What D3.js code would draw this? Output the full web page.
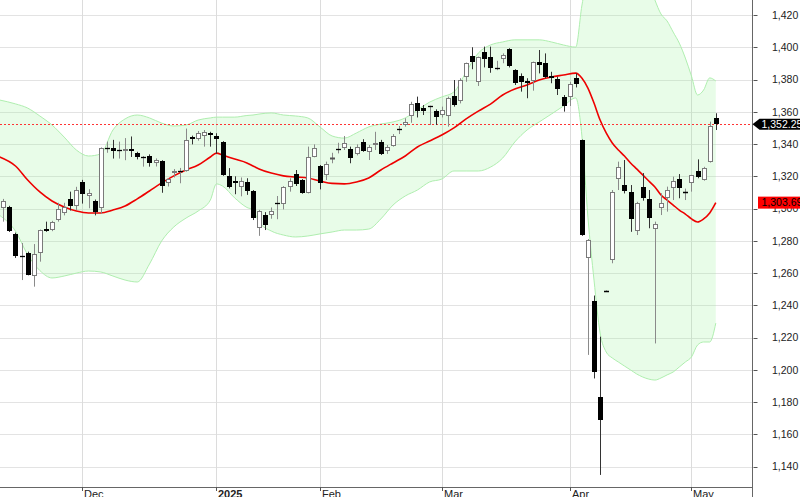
<!DOCTYPE html>
<html><head><meta charset="utf-8">
<script src="https://cdn.jsdelivr.net/npm/d3@7"></script>
<style>html,body{margin:0;padding:0;background:#fff;overflow:hidden}</style>
</head><body><svg id="c" width="800" height="497"></svg>
<script>
// ---- data ----
const opens = [1300.3,1301.1,1284.1,1270.4,1272.3,1258.4,1272.3,1287.5,1286.7,1292.9,
1297.5,1306.1,1301.4,1316.2,1308.0,1304.8,1300.1,1337.7,1337.7,1336.3,
1335.5,1336.8,1334.2,1331.7,1332.8,1328.1,1329.7,1316.1,1321.8,1323.6,
1323.5,1344.2,1343.0,1345.2,1347.1,1345.2,1341.5,1320.2,1317.0,1313.6,
1316.6,1310.9,1287.8,1296.1,1296.2,1303.2,1302.9,1313.1,1321.4,1317.7,
1309.8,1332.2,1326.4,1320.7,1330.6,1336.7,1337.4,1336.7,1333.7,1341.5,
1334.8,1339.4,1341.5,1335.9,1338.7,1349.1,1351.8,1357.4,1365.6,1362.1,
1363.6,1360.6,1358.0,1357.4,1369.7,1366.9,1381.8,1394.6,1378.6,1397.2,
1394.2,1386.9,1392.7,1398.8,1385.9,1382.2,1379.2,1379.2,1391.1,1390.5,
1382.2,1380.1,1369.3,1369.3,1381.1,1342.6,1269.2,1242.5,1183.5,1249.1,
1268.1,1318.1,1314.6,1310.1,1286.3,1313.6,1305.8,1287.1,1300.2,1306.4,
1312.5,1318.2,1310.5,1315.7,1323.5,1317.7,1329.1,1356.0];
const highs = [1306.0,1301.7,1285.1,1278.7,1273.3,1278.0,1287.0,1291.9,1292.4,1303.6,
1303.6,1310.5,1313.5,1317.8,1312.0,1305.6,1337.9,1341.5,1342.6,1341.5,
1343.7,1344.7,1335.2,1332.6,1333.6,1331.1,1330.0,1318.8,1324.5,1325.2,
1349.6,1345.2,1348.1,1348.7,1347.6,1346.7,1341.8,1325.1,1320.0,1319.3,
1318.8,1311.5,1299.2,1297.8,1300.7,1307.8,1313.9,1318.8,1323.9,1318.3,
1338.4,1339.8,1327.0,1329.1,1334.6,1340.8,1345.0,1338.4,1339.8,1343.0,
1339.4,1347.6,1342.6,1339.4,1346.2,1351.2,1356.0,1366.2,1369.4,1364.2,
1363.8,1361.5,1363.2,1369.4,1379.7,1380.8,1390.5,1400.0,1394.2,1400.4,
1400.4,1391.6,1396.2,1399.4,1386.4,1383.8,1380.8,1391.1,1398.3,1396.2,
1384.8,1381.8,1370.4,1378.6,1383.8,1342.8,1281.1,1246.1,1220.6,1249.3,
1311.5,1329.1,1330.1,1314.6,1304.2,1322.0,1311.5,1291.9,1309.5,1313.6,
1319.8,1321.4,1312.4,1320.9,1330.5,1325.9,1353.9,1359.1];
const lows = [1291.9,1285.5,1269.4,1255.7,1258.6,1251.6,1267.1,1285.6,1286.0,1291.9,
1295.8,1298.8,1299.2,1303.1,1300.2,1295.8,1296.8,1334.6,1331.0,1331.0,
1330.0,1332.0,1330.5,1326.0,1326.0,1326.1,1309.8,1313.7,1319.3,1315.7,
1322.9,1339.8,1342.1,1338.4,1338.4,1334.0,1320.3,1312.5,1308.9,1307.6,
1308.5,1292.9,1283.1,1286.7,1293.7,1293.4,1299.5,1310.5,1314.0,1309.2,
1309.4,1331.8,1311.9,1317.7,1328.1,1334.2,1336.3,1328.1,1333.0,1335.2,
1330.1,1336.3,1333.2,1333.9,1338.4,1346.2,1350.8,1353.2,1356.5,1358.0,
1351.8,1351.8,1356.5,1350.8,1363.2,1365.2,1378.6,1386.4,1376.0,1387.5,
1384.2,1385.8,1390.1,1387.5,1376.6,1372.5,1368.4,1373.1,1383.8,1380.8,
1377.7,1370.4,1360.1,1363.6,1375.1,1283.1,1209.3,1194.7,1134.9,1248.9,
1266.1,1311.5,1309.4,1285.6,1283.6,1304.9,1287.8,1216.4,1296.0,1298.1,
1305.3,1306.4,1305.3,1310.5,1318.8,1317.3,1328.5,1348.7];
const closes = [1305.0,1286.3,1270.9,1270.6,1259.1,1271.6,1286.7,1286.3,1291.9,1299.5,
1301.1,1301.7,1311.5,1309.0,1309.5,1297.7,1337.7,1337.7,1336.0,1336.3,
1336.8,1335.5,1331.7,1331.7,1328.1,1330.1,1314.0,1318.2,1323.3,1323.6,
1342.6,1343.1,1346.7,1347.6,1345.5,1343.1,1320.9,1313.1,1315.7,1317.0,
1311.0,1293.9,1298.6,1289.6,1298.3,1303.2,1313.1,1317.0,1315.3,1309.8,
1332.2,1337.8,1315.7,1327.5,1331.1,1336.7,1340.8,1331.1,1338.4,1335.9,
1338.4,1340.4,1333.9,1338.0,1345.0,1349.1,1353.9,1364.9,1360.6,1360.6,
1363.6,1356.5,1361.1,1368.4,1364.2,1379.7,1390.1,1391.1,1393.8,1392.5,
1387.3,1386.9,1395.2,1388.4,1377.7,1378.2,1378.1,1390.7,1389.0,1381.8,
1380.8,1373.9,1363.6,1377.2,1377.2,1283.6,1280.6,1198.9,1169.0,1249.1,
1310.1,1326.0,1311.0,1293.4,1303.7,1306.4,1294.1,1290.4,1303.7,1311.5,
1317.2,1312.5,1310.5,1320.9,1319.4,1325.0,1351.2,1352.25];

// Bollinger band readings, at these candle positions
const bandIdx = [-0.6,2,4,6,8,10,12,14,16,18,20,22,24,26,28,30,32,34,35,36,38,40,41,42,
44,46,48,50,52,54,56,58,60,62,64,66,68,70,72,74,76,78,80,82,84,86,88,90,92,94,
95,96,97,98,99,100,101,102,103,104,105,106,107,108,109,110,111,112,113,114,115,116,117];
const bandUpper = [1367.3,1364.9,1362.3,1357.4,1351.8,1344.3,1336.3,1332.6,1333.9,1348.7,1355.6,1358.0,1356.2,1353.0,1351.2,1351.8,1354.9,1356.2,
1356.7,1356.7,1356.7,1357.7,1358.0,1358.6,
1359.3,1358.0,1357.4,1356.2,1350.6,1345.0,1343.7,1346.9,1350.6,1352.4,1353.7,1356.2,1361.1,1366.0,1369.2,1372.3,1384.7,1396.4,1401.4,1403.3,1404.6,1404.6,1404.6,1403.3,1401.4,1400.1,
1425.6,1445,1455,1458,1460,1460,1460,1460,1458,1456,1452,1440,1429.3,1420.6,1416.3,1409.4,1402.6,1393.3,1382.2,1370.4,1373.5,1381.0,1379.1];
const bandMid = [1332.0,1326.4,1317.7,1310.3,1304.7,1301.0,1298.5,1297.3,1297.3,1299.1,1301.6,1306.0,1310.9,1315.9,1320.3,1323.9,1327.0,1332.0,
1334.4,1333.2,1330.7,1328.3,1326.4,1324.6,
1322.0,1320.3,1319.6,1319.0,1317.1,1315.6,1315.3,1316.5,1319.0,1323.9,1328.3,1332.6,1338.2,1341.9,1345.6,1350.0,1355.6,1360.4,1364.8,1370.4,1374.1,1376.6,1379.7,1381.6,1382.8,1384.0,
1381.0,1374.7,1365.4,1354.9,1346.9,1340.7,1336.3,1332.6,1328.3,1324.6,1320.9,1317.1,1313.4,1308.4,1305.3,1302.2,1299.1,1296.6,1293.6,1291.7,1293.6,1297.3,1303.69];
const bandLower = [1295.8,1286.0,1271.4,1261.6,1257.0,1258.2,1260.0,1261.3,1260.7,1258.2,1255.7,1254.5,1265.6,1279.9,1288.6,1294.1,1298.5,1305.3,
1315.3,1314.0,1306.6,1300.7,1299.1,1291.7,
1286.1,1283.6,1282.4,1283.0,1284.3,1285.5,1286.7,1286.7,1287.3,1293.6,1302.2,1307.8,1311.5,1316.5,1318.3,1323.3,1323.3,1323.3,1325.7,1331.3,1341.3,1348.7,1353.7,1358.6,1363.6,1368.6,
1345.6,1294.7,1255.7,1222.9,1211.1,1207.4,1204.9,1202.4,1200.0,1197.5,1195.6,1194.3,1193.7,1195.0,1196.9,1198.7,1201.8,1204.9,1208.0,1215.4,1217.3,1217.3,1229.0];

const yTickValues = [1140,1160,1180,1200,1220,1240,1260,1280,1300,1320,1340,1360,1380,1400,1420];
const monthTickIndex = [13,35,52,72,93,113];
const monthTickLabels = ["Dec","2025","Feb","Mar","Apr","May"];
const lastClose = 1352.25;
const lastMid = 1303.69;

// ---- layout ----
const plotR = 752.5, plotB = 487;
const svg = d3.select("#c");
const x = d3.scaleLinear().domain([0, 117]).range([3.3, 715.8]);
const y = d3.scaleLinear().domain([1140, 1420]).range([466.7, 15]);
const FONT = "'Liberation Sans', Arial, sans-serif";

svg.append("defs").append("clipPath").attr("id","plot")
  .append("rect").attr("x",0).attr("y",0).attr("width",plotR).attr("height",plotB);

// grid
const grid = svg.append("g");
grid.selectAll("line.h").data(yTickValues).join("line")
  .attr("x1",0).attr("x2",plotR)
  .attr("y1",d=>Math.round(y(d))+0.5).attr("y2",d=>Math.round(y(d))+0.5)
  .attr("stroke","#e3e3e3").attr("stroke-width",1);
grid.selectAll("line.v").data(monthTickIndex).join("line")
  .attr("x1",d=>Math.round(x(d))+0.5).attr("x2",d=>Math.round(x(d))+0.5)
  .attr("y1",0).attr("y2",plotB)
  .attr("stroke","#dcdcdc").attr("stroke-width",1);

const plot = svg.append("g").attr("clip-path","url(#plot)");

const band = bandIdx.map((d,i)=>({i:d,u:bandUpper[i],m:bandMid[i],l:bandLower[i]}));
plot.append("path").datum(band)
  .attr("d", d3.area().x(d=>x(d.i)).y0(d=>y(d.l)).y1(d=>y(d.u)).curve(d3.curveMonotoneX))
  .attr("fill","rgb(150,240,150)").attr("fill-opacity",0.22);
["u","l"].forEach(k=>{
  plot.append("path").datum(band)
    .attr("d", d3.line().x(d=>x(d.i)).y(d=>y(d[k])).curve(d3.curveMonotoneX))
    .attr("fill","none").attr("stroke","rgb(175,238,175)").attr("stroke-width",1);
});
plot.append("path").datum(band)
  .attr("d", d3.line().x(d=>x(d.i)).y(d=>y(d.m)).curve(d3.curveMonotoneX))
  .attr("fill","none").attr("stroke","#ee0000").attr("stroke-width",1.6);

// dotted last price line
plot.append("line").attr("x1",0).attr("x2",plotR)
  .attr("y1",Math.round(y(lastClose))+0.5).attr("y2",Math.round(y(lastClose))+0.5)
  .attr("stroke","#ff3333").attr("stroke-width",1).attr("stroke-dasharray","2,2");

// candles
const candles = opens.map((o,i)=>({i,o,h:highs[i],l:lows[i],c:closes[i]}));
const cg = plot.append("g").selectAll("g").data(candles).join("g");
cg.append("line")
  .attr("x1",d=>Math.round(x(d.i))+0.5).attr("x2",d=>Math.round(x(d.i))+0.5)
  .attr("y1",d=>y(d.h)).attr("y2",d=>y(d.l))
  .attr("stroke",d=>d.c>=d.o?"#8a8a8a":"#333").attr("stroke-width",1);
cg.each(function(d){
  const g = d3.select(this);
  const xc = Math.round(x(d.i))+0.5;
  const top = Math.round(y(Math.max(d.o,d.c)));
  const bot = Math.round(y(Math.min(d.o,d.c)));
  if (bot - top < 2) {
    g.append("line").attr("x1",xc-2.5).attr("x2",xc+2.5)
      .attr("y1",top+0.5).attr("y2",top+0.5)
      .attr("stroke", d.c>=d.o && bot-top>=1 ? "#555" : "#000").attr("stroke-width", bot-top>=1?2:1.3);
  } else {
    const white = d.c >= d.o;
    g.append("rect").attr("x",xc-2).attr("width",4)
      .attr("y",top+0.5).attr("height",bot-top-1)
      .attr("fill",white?"#fff":"#000").attr("stroke",white?"#7a7a7a":"#000").attr("stroke-width",1);
  }
});

// axes
svg.append("line").attr("x1",0).attr("x2",plotR).attr("y1",plotB+0.5).attr("y2",plotB+0.5)
  .attr("stroke","#666");
svg.append("line").attr("x1",plotR).attr("x2",plotR).attr("y1",0).attr("y2",497)
  .attr("stroke","#666");
svg.selectAll("line.yt").data(yTickValues).join("line")
  .attr("x1",plotR+1).attr("x2",plotR+5)
  .attr("y1",d=>Math.round(y(d))+0.5).attr("y2",d=>Math.round(y(d))+0.5)
  .attr("stroke","#555");
svg.selectAll("text.yl").data(yTickValues).join("text")
  .attr("x",772).attr("y",d=>y(d)).attr("dy","0.36em")
  .attr("font-family",FONT).attr("font-size",10.5).attr("fill","#222")
  .text(d=>d3.format(",")(d));
svg.selectAll("line.xt").data(monthTickIndex).join("line")
  .attr("x1",d=>Math.round(x(d))+0.5).attr("x2",d=>Math.round(x(d))+0.5)
  .attr("y1",plotB).attr("y2",plotB+4).attr("stroke","#555");
svg.selectAll("text.xl").data(monthTickIndex).join("text")
  .attr("x",d=>Math.round(x(d))+2).attr("y",497.5)
  .attr("font-family",FONT).attr("font-size",11).attr("fill","#222")
  .attr("font-weight",(d,i)=>monthTickLabels[i]==="2025"?"bold":"normal")
  .text((d,i)=>monthTickLabels[i]);

// last price label (black, arrow)
const yc = y(lastClose);
svg.append("path")
  .attr("d",`M${plotR},${yc} L${plotR+7},${yc-5.5} L800,${yc-5.5} L800,${yc+5.5} L${plotR+7},${yc+5.5} Z`)
  .attr("fill","#000");
svg.append("text").attr("x",761.5).attr("y",yc).attr("dy","0.36em")
  .attr("font-family",FONT).attr("font-size",10.5).attr("fill","#fff")
  .text(d3.format(",.2f")(lastClose));
// MA label (red box)
const ym = y(lastMid);
svg.append("rect").attr("x",758).attr("y",ym-6).attr("width",42).attr("height",12)
  .attr("fill","#ff0000");
svg.append("text").attr("x",761.5).attr("y",ym).attr("dy","0.36em")
  .attr("font-family",FONT).attr("font-size",10.5).attr("fill","#000")
  .text(d3.format(",.2f")(lastMid));
</script></body></html>
